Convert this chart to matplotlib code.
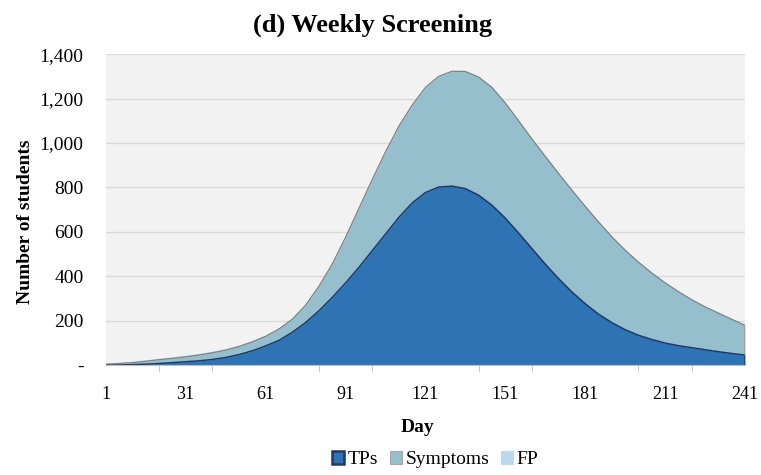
#stacked area chart: weekly screening scenario
import matplotlib.pyplot as plt
from matplotlib.ticker import FuncFormatter
from matplotlib.patches import Patch
import numpy as np

# data (every 5 days)
days = list(range(1, 242, 5))
tps = [0, 1, 3, 5, 8, 12, 16, 20, 26, 35, 48, 65, 87, 112, 148, 192, 245,
       305, 370, 440, 515, 590, 665, 730, 777, 802, 806, 795, 765, 720, 662,
       595, 525, 455, 390, 330, 277, 230, 192, 160, 135, 116, 100, 88, 79, 70,
       61, 53, 46]
symptoms = [5, 7, 9, 13, 17, 19, 22, 26, 30, 33, 36, 40, 43, 51, 59, 78, 110,
            150, 205, 265, 320, 370, 410, 440, 473, 498, 517, 527, 532, 530, 518,
            505, 493, 485, 473, 458, 438, 415, 386, 358, 329, 299, 271, 243, 216, 193,
            174, 154, 134]
fp = [4, 5, 6, 7, 7, 8, 8, 8, 8, 8, 8, 8, 7, 6, 5, 4, 3,
      2, 2, 1, 1, 0, 0, 0, 0, 0, 0, 0, 0, 0, 0, 0, 0, 0, 0, 0, 0, 0, 0, 0,
      0, 0, 0, 0, 0, 0, 0, 0, 0]

label_days = [1, 31, 61, 91, 121, 151, 181, 211, 241]
tick_days = list(range(1, 242, 20))
y_ticks = [0, 200, 400, 600, 800, 1000, 1200, 1400]

plt.rcParams['font.family'] = ['Liberation Serif', 'DejaVu Serif']

fig = plt.figure(figsize=(7.61, 4.75), dpi=100)
ax = fig.add_axes([0.139, 0.231, 0.840, 0.655])
ax.set_facecolor('#F2F2F2')

d = np.array(days)
t = np.array(tps)
s = t + np.array(symptoms)
f = s + np.array(fp)

ax.fill_between(d, s, f, color='#BDD7EE', lw=0)
ax.fill_between(d, t, s, color='#96BFCD', lw=0)
ax.fill_between(d, 0, t, color='#2E73B4', lw=0)
ax.plot(d, s, color='#808080', lw=0.9)
ax.plot(d, t, color='#1F3864', lw=1.1)
ax.plot([d[-1], d[-1]], [t[-1], s[-1]], color='#A0A0A0', lw=1.2)
ax.plot([d[-1], d[-1]], [0, t[-1]], color='#1F3864', lw=1.8)

ax.set_xlim(1, 241)
ax.set_ylim(0, 1400)

ax.set_yticks(y_ticks)
ax.yaxis.set_major_formatter(FuncFormatter(lambda v, p: '-' if v == 0 else f'{int(v):,}'))
ax.set_xticks(label_days)
ax.set_xticks(tick_days, minor=True)
ax.tick_params(axis='x', which='major', length=0, pad=15, labelsize=13)
ax.tick_params(axis='x', which='minor', length=5, color='#BFBFBF', direction='out')
ax.tick_params(axis='y', length=0, pad=16, labelsize=14)

ax.grid(axis='y', color='#D9D9D9', lw=1.0)
ax.set_axisbelow(True)
for side in ['left', 'right', 'top']:
    ax.spines[side].set_visible(False)
ax.spines['bottom'].set_color('#BFBFBF')

fig.text(0.49, 0.947, '(d) Weekly Screening', fontsize=19, fontweight='bold',
         ha='center', va='center')
fig.text(0.549, 0.099, 'Day', fontsize=14, fontweight='bold', ha='center', va='center')
fig.text(0.033, 0.533, 'Number of students', fontsize=14, fontweight='bold',
         rotation=90, ha='center', va='center')

handles = [Patch(facecolor='#2E73B4', edgecolor='#1F3864', lw=1.8),
           Patch(facecolor='#96BFCD', edgecolor='#A6A6A6', lw=0.8),
           Patch(facecolor='#BDD7EE', edgecolor='#BDD7EE', lw=0.8)]
fig.legend(handles, ['TPs', 'Symptoms', 'FP'], loc='center', bbox_to_anchor=(0.572, 0.032),
           ncol=3, frameon=False, fontsize=14, handlelength=0.6, handleheight=0.6,
           handletextpad=0.2, columnspacing=0.6, borderpad=0)

fig.savefig('out.png', dpi=100)
